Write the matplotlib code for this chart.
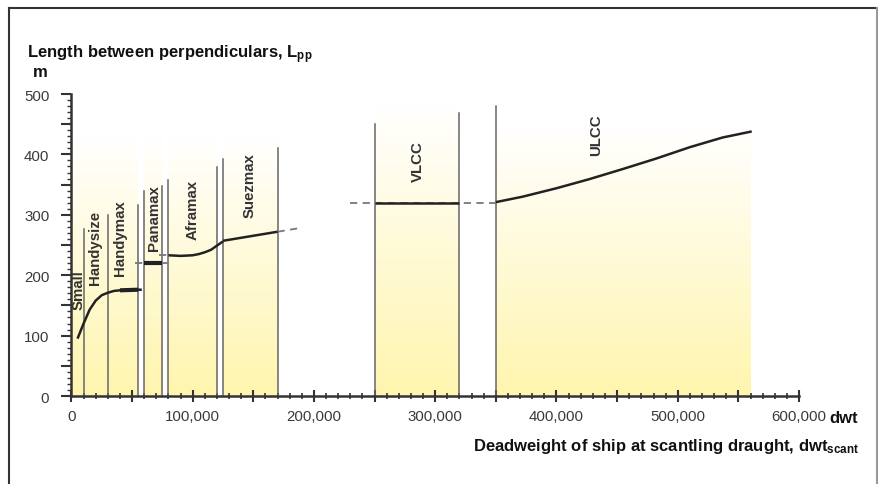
import matplotlib
matplotlib.use('Agg')
import matplotlib.pyplot as plt
import numpy as np
from matplotlib.colors import LinearSegmentedColormap
from matplotlib.lines import Line2D
from matplotlib.ticker import MultipleLocator, FuncFormatter

plt.rcParams['font.family'] = ['Liberation Sans', 'DejaVu Sans']
plt.rcParams['mathtext.fontset'] = 'custom'
plt.rcParams['mathtext.rm'] = 'Liberation Sans'
plt.rcParams['mathtext.bf'] = 'Liberation Sans:bold'

# shaded ship-size regions (dwt start, dwt end, top of shading in m)
region_start = [0, 60000, 80000, 125000, 250000, 350000]
region_end = [55000, 75000, 120000, 170000, 320000, 560000]
region_top = [430, 430, 430, 430, 480, 447]

# vertical boundary lines (dwt, height in m)
bound_x = [10000, 30000, 55000, 60000, 75000, 80000, 120000, 125000, 170000, 250000, 320000, 350000]
bound_h = [276, 300, 316, 340, 348, 358, 379, 392, 410, 450, 468, 480]

# class labels (name, dwt, m)
class_names = ['Small', 'Handysize', 'Handymax', 'Panamax', 'Aframax', 'Suezmax', 'VLCC', 'ULCC']
class_x = [5500, 19500, 40000, 68000, 100000, 147000, 285500, 433000]
class_y = [177, 247, 263, 296, 310, 350, 390, 433]

# Lpp curves
small_dwt = [5000, 10000, 15000, 20000, 25000, 30000, 35000, 40000, 50000, 58000]
small_lpp = [95, 120, 143, 158, 167, 171, 174, 175, 176, 176]
handymax_dwt = [40000, 55000]
handymax_lpp = [175, 176]
panamax_dwt = [60000, 75000]
panamax_lpp = [220, 220]
panamax_dash_dwt = [52000, 81000]
afra_dwt = [80000, 90000, 100000, 105000, 110000, 115000, 120000, 125000]
afra_lpp = [233, 232, 233, 235, 238, 242, 249, 256]
afra_dash_dwt = [72000, 80000]
afra_dash_lpp = [234, 234]
suez_dwt = [125000, 170000]
suez_lpp = [257, 272]
suez_dash_dwt = [170000, 188000]
suez_dash_lpp = [272, 278]
vlcc_dwt = [250000, 320000]
vlcc_lpp = [320, 320]
vlcc_dash_dwt = [230000, 350000]
vlcc_dash_lpp = [320, 320]
ulcc_dwt = [350000, 372000, 400000, 427000, 455000, 482000, 510000, 537000, 561000]
ulcc_lpp = [321, 330, 344, 359, 376, 393, 412, 428, 438]

fig = plt.figure(figsize=(8.79, 4.85), dpi=100)
ax = fig.add_axes([0.0813, 0.1814, 0.8277, 0.6227])

cmap = LinearSegmentedColormap.from_list('fade', ['#fff5ae', '#ffffff'])
grad = np.linspace(0, 1, 256).reshape(-1, 1)
for x0, x1, top in zip(region_start, region_end, region_top):
    ax.imshow(grad, extent=[x0, x1, 0, top], origin='lower', aspect='auto',
              cmap=cmap, zorder=0, interpolation='bicubic')

for x, h in zip(bound_x, bound_h):
    ax.plot([x, x], [0, h], color='#666666', lw=1.1, zorder=2)

dash = dict(color='#777777', lw=1.3, ls=(0, (4, 3)), zorder=3)
ax.plot(panamax_dash_dwt, panamax_lpp, **dash)
ax.plot(afra_dash_dwt, afra_dash_lpp, **dash)
ax.plot(suez_dash_dwt, suez_dash_lpp, **dash)
ax.plot(vlcc_dash_dwt, vlcc_dash_lpp, **dash)

solid = dict(color='#222222', zorder=4, solid_capstyle='butt', solid_joinstyle='round')
ax.plot(small_dwt, small_lpp, lw=1.8, **solid)
ax.plot(handymax_dwt, handymax_lpp, lw=3, **solid)
ax.plot(panamax_dwt, panamax_lpp, lw=3, **solid)
ax.plot(afra_dwt, afra_lpp, lw=1.8, **solid)
ax.plot(suez_dwt, suez_lpp, lw=1.8, **solid)
ax.plot(vlcc_dwt, vlcc_lpp, lw=1.8, **solid)
ax.plot(ulcc_dwt, ulcc_lpp, lw=1.8, **solid)

for name, x, y in zip(class_names, class_x, class_y):
    ax.text(x, y, name, rotation=90, ha='center', va='center',
            fontsize=10.8, fontweight='bold', color='#333333', zorder=5)

ax.set_xlim(0, 600000)
ax.set_ylim(0, 500)
for s in ['top', 'right']:
    ax.spines[s].set_visible(False)
for s in ['left', 'bottom']:
    ax.spines[s].set_color('#333333')
    ax.spines[s].set_linewidth(1.8)

ax.xaxis.set_major_locator(MultipleLocator(50000))
ax.xaxis.set_minor_locator(MultipleLocator(10000))
ax.yaxis.set_major_locator(MultipleLocator(50))
ax.yaxis.set_minor_locator(MultipleLocator(10))
ax.xaxis.set_major_formatter(FuncFormatter(lambda v, p: f'{int(v):,}' if v % 100000 == 0 else ''))
ax.yaxis.set_major_formatter(FuncFormatter(lambda v, p: f'{int(v)}' if v % 100 == 0 else ''))
ax.tick_params(axis='x', which='major', direction='inout', length=9, width=1.5,
               colors='#333333', labelsize=10.8, pad=5)
ax.tick_params(axis='x', which='minor', direction='inout', length=5, width=1.2, colors='#333333')
ax.tick_params(axis='y', which='major', direction='out', length=7, width=1.5,
               colors='#333333', labelsize=10.8, pad=9)
ax.tick_params(axis='y', which='minor', direction='out', length=3, width=1.0, colors='#333333')
for lab in ax.get_xticklabels() + ax.get_yticklabels():
    lab.set_color('#3a3a3a')

fig.text(0.0307, 0.887, r'Length between perpendiculars, $\mathbf{L_{pp}}$',
         fontsize=12, fontweight='bold', color='#111111', va='center')
fig.text(0.0375, 0.851, 'm', fontsize=12, fontweight='bold', color='#111111', va='center')
fig.text(0.944, 0.138, 'dwt', fontsize=12, fontweight='bold', color='#111111',
         ha='left', va='center')
fig.text(0.977, 0.079, r'Deadweight of ship at scantling draught, dwt$\mathbf{_{scant}}$',
         fontsize=12, fontweight='bold', color='#111111', ha='right', va='center')

# frame around the figure (open at the bottom)
fig.add_artist(Line2D([0.0102, 0.9977], [0.9814, 0.9814], transform=fig.transFigure,
                      color='#333333', lw=1.5))
fig.add_artist(Line2D([0.0102, 0.0102], [0.0, 0.9814], transform=fig.transFigure,
                      color='#333333', lw=1.5))
fig.add_artist(Line2D([0.9977, 0.9977], [0.0, 0.9814], transform=fig.transFigure,
                      color='#999999', lw=1.5))

fig.savefig('out.png', dpi=100)
